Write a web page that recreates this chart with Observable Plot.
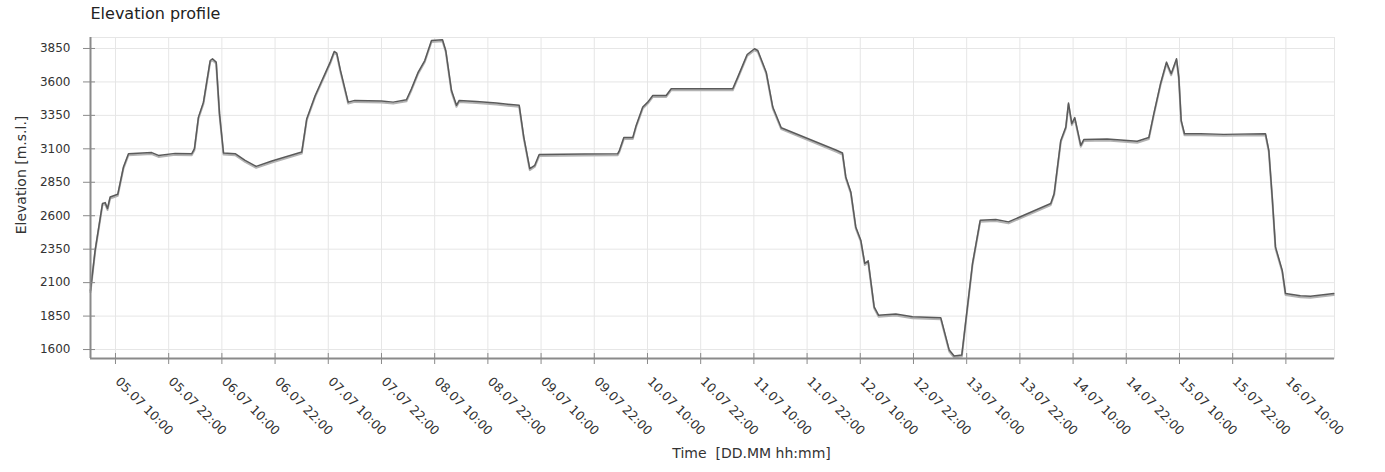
<!DOCTYPE html>
<html>
<head>
<meta charset="utf-8">
<script src="https://cdn.jsdelivr.net/npm/d3@7"></script>
<script src="https://cdn.jsdelivr.net/npm/@observablehq/plot@0.6"></script>
<style>
  html, body { margin: 0; padding: 0; background: #fff; }
  #chart { width: 1385px; height: 472px; }
</style>
</head>
<body>
<div id="chart"></div>
<script>
// ---- data ----
const times = [
  "2015-07-05T04:22","2015-07-05T05:25","2015-07-05T07:04","2015-07-05T07:41","2015-07-05T08:12",
  "2015-07-05T08:48","2015-07-05T10:31","2015-07-05T11:48","2015-07-05T12:56","2015-07-05T18:11",
  "2015-07-05T19:42","2015-07-05T23:28","2015-07-06T03:13","2015-07-06T03:49","2015-07-06T04:43",
  "2015-07-06T05:51","2015-07-06T07:22","2015-07-06T07:53","2015-07-06T08:43","2015-07-06T09:28",
  "2015-07-06T10:22","2015-07-06T13:00","2015-07-06T15:15","2015-07-06T17:44","2015-07-06T21:16",
  "2015-07-07T04:01","2015-07-07T05:09","2015-07-07T07:03","2015-07-07T10:26","2015-07-07T11:20",
  "2015-07-07T11:55","2015-07-07T12:45","2015-07-07T14:29","2015-07-07T15:59","2015-07-07T22:00",
  "2015-07-08T00:38","2015-07-08T03:38","2015-07-08T04:46","2015-07-08T06:17","2015-07-08T07:46",
  "2015-07-08T09:17","2015-07-08T11:46","2015-07-08T12:30","2015-07-08T13:47","2015-07-08T14:55",
  "2015-07-08T15:32","2015-07-08T19:26","2015-07-08T23:56","2015-07-09T05:04","2015-07-09T06:06",
  "2015-07-09T07:27","2015-07-09T08:35","2015-07-09T09:34","2015-07-09T19:47","2015-07-10T03:18",
  "2015-07-10T03:41","2015-07-10T04:40","2015-07-10T06:41","2015-07-10T07:27","2015-07-10T08:56",
  "2015-07-10T10:04","2015-07-10T11:12","2015-07-10T14:13","2015-07-10T15:21","2015-07-11T05:14",
  "2015-07-11T06:22","2015-07-11T08:29","2015-07-11T10:08","2015-07-11T10:53","2015-07-11T12:47",
  "2015-07-11T14:16","2015-07-11T16:10","2015-07-12T04:38","2015-07-12T05:59","2015-07-12T06:44",
  "2015-07-12T07:52","2015-07-12T08:59","2015-07-12T10:07","2015-07-12T11:01","2015-07-12T11:47",
  "2015-07-12T13:08","2015-07-12T14:07","2015-07-12T18:01","2015-07-12T21:47","2015-07-13T04:10",
  "2015-07-13T06:04","2015-07-13T07:11","2015-07-13T08:54","2015-07-13T11:19","2015-07-13T13:03",
  "2015-07-13T16:34","2015-07-13T19:26","2015-07-14T04:58","2015-07-14T05:44","2015-07-14T07:14",
  "2015-07-14T08:22","2015-07-14T08:58","2015-07-14T09:43","2015-07-14T10:23","2015-07-14T11:44",
  "2015-07-14T12:25","2015-07-14T17:42","2015-07-15T00:28","2015-07-15T03:05","2015-07-15T04:13",
  "2015-07-15T05:43","2015-07-15T07:04","2015-07-15T08:08","2015-07-15T09:20","2015-07-15T09:51",
  "2015-07-15T10:23","2015-07-15T11:08","2015-07-15T14:44","2015-07-15T20:00","2015-07-16T05:24",
  "2015-07-16T06:09","2015-07-16T06:55","2015-07-16T07:39","2015-07-16T09:10","2015-07-16T09:55",
  "2015-07-16T13:17","2015-07-16T15:33","2015-07-16T20:49"
];
const elevations = [
  2040,2343,2691,2698,2654,
  2740,2760,2964,3064,3072,
  3051,3066,3064,3101,3337,
  3449,3760,3773,3748,3363,
  3069,3064,3014,2969,3009,
  3076,3325,3499,3748,3828,
  3815,3686,3449,3462,3457,
  3449,3467,3549,3673,3760,
  3910,3915,3835,3537,3425,
  3462,3454,3442,3425,3188,
  2952,2977,3057,3062,3064,
  3089,3184,3184,3275,3412,
  3449,3499,3499,3549,3549,
  3636,3805,3848,3835,3673,
  3412,3258,3089,3069,2890,
  2778,2516,2417,2243,2263,
  1919,1857,1865,1845,1837,
  1596,1551,1559,2243,2566,
  2571,2554,2691,2766,3163,
  3263,3442,3288,3333,3126,
  3169,3173,3156,3184,3363,
  3586,3748,3661,3773,3636,
  3313,3213,3213,3208,3213,
  3089,2740,2367,2193,2019,
  2002,1999,2019
];
const xTickLabels = [
  "05.07 10:00","05.07 22:00","06.07 10:00","06.07 22:00","07.07 10:00","07.07 22:00",
  "08.07 10:00","08.07 22:00","09.07 10:00","09.07 22:00","10.07 10:00","10.07 22:00",
  "11.07 10:00","11.07 22:00","12.07 10:00","12.07 22:00","13.07 10:00","13.07 22:00",
  "14.07 10:00","14.07 22:00","15.07 10:00","15.07 22:00","16.07 10:00"
];
const yTicks = [1600, 1850, 2100, 2350, 2600, 2850, 3100, 3350, 3600, 3850];
const xDomainLabels = ["2015-07-05T04:22", "2015-07-16T20:58"];
const yDomain = [1533, 3932];
const titleText = "Elevation profile";
const yLabelText = "Elevation [m.s.l.]";
const xLabelText = "Time\u00a0 [DD.MM hh:mm]";

// ---- build ----
const parseISO = d3.utcParse("%Y-%m-%dT%H:%M");
const parseTick = s => d3.utcParse("%Y %d.%m %H:%M")("2015 " + s);
const fmt = d3.utcFormat("%d.%m %H:%M");
const data = times.map((t, i) => ({time: parseISO(t), elev: elevations[i]}));
const xTicks = xTickLabels.map(parseTick);
const xDomain = xDomainLabels.map(parseISO);

const gridColor = "#e6e6e6";
const axisColor = "#8a8a8a";
const textColor = "#333333";

const chart = Plot.plot({
  width: 1385,
  height: 472,
  marginTop: 37,
  marginRight: 51,
  marginBottom: 114,
  marginLeft: 90,
  style: {fontFamily: "DejaVu Sans", fontSize: "12px", color: textColor, background: "#fff"},
  x: {type: "utc", domain: xDomain},
  y: {domain: yDomain},
  marks: [
    Plot.frame({stroke: gridColor}),
    Plot.gridX(xTicks, {stroke: gridColor, strokeOpacity: 1}),
    Plot.gridY(yTicks, {stroke: gridColor, strokeOpacity: 1}),
    // line shadow + line
    Plot.line(data, {x: "time", y: "elev", stroke: "#b3b3b3", strokeWidth: 2, dy: 1.5}),
    Plot.line(data, {x: "time", y: "elev", stroke: "#5a5a5a", strokeWidth: 1.5}),
    // axis lines
    Plot.ruleX([xDomain[0]], {stroke: axisColor, strokeWidth: 2}),
    Plot.ruleY([yDomain[0]], {stroke: axisColor, strokeWidth: 2}),
    // y axis ticks + labels
    Plot.axisY(yTicks, {tickSize: 12, dx: 5, tickPadding: 13, stroke: axisColor, fill: textColor,
      label: null, tickFormat: d => String(d)}),
    // x axis ticks
    Plot.axisX(xTicks, {tickSize: 11, dy: -5, stroke: axisColor, fill: "none", label: null, tickFormat: fmt}),
    // x axis labels (rotated)
    Plot.axisX(xTicks, {tickSize: 0, tickPadding: 21, tickRotate: 45, textAnchor: "start", lineAnchor: "middle",
      dx: 2, fill: textColor, label: null, tickFormat: fmt, fontSize: 12.5}),
    // title and axis titles
    Plot.text([titleText], {frameAnchor: "top-left", text: d => d, dy: -19, lineAnchor: "bottom",
      textAnchor: "start", fontSize: 16, fill: "#222"}),
    Plot.text([yLabelText], {frameAnchor: "left", text: d => d, rotate: -90, dx: -69, dy: -23,
      lineAnchor: "middle", textAnchor: "middle", fontSize: 14, fill: textColor}),
    Plot.text([xLabelText], {frameAnchor: "bottom", text: d => d, dx: 39, dy: 95,
      lineAnchor: "middle", textAnchor: "middle", fontSize: 14, fill: textColor})
  ]
});
document.getElementById("chart").appendChild(chart);
</script>
</body>
</html>
